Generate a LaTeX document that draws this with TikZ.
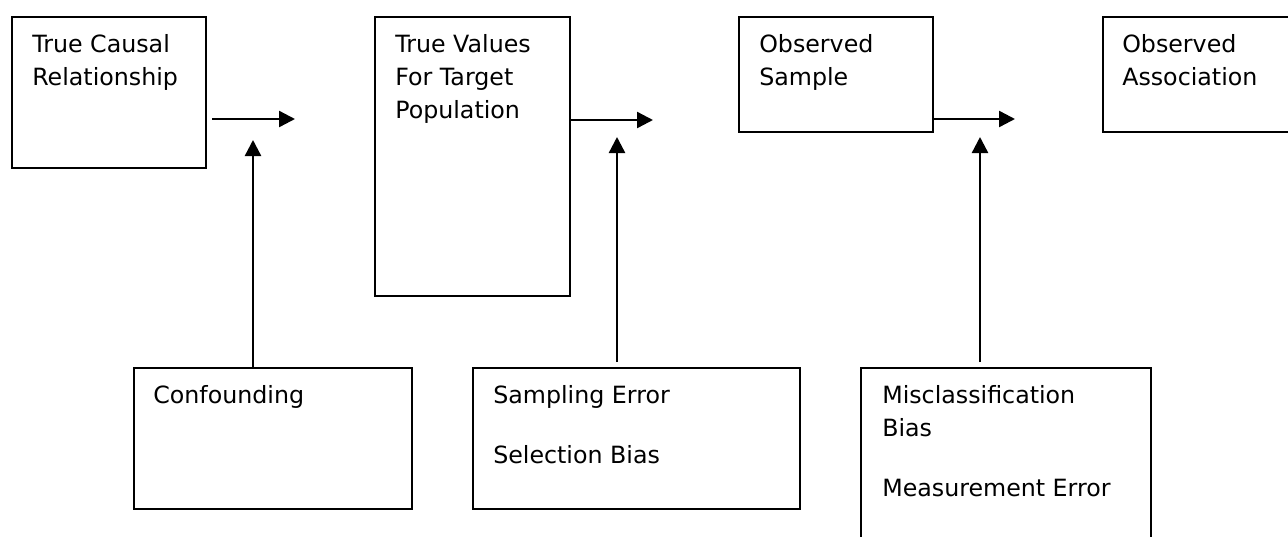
\documentclass[tikz,border=0pt]{standalone}
\usepackage{fontspec}
\setmainfont{DejaVu Sans}
\usetikzlibrary{arrows.meta}

\tikzset{
	box/.style={draw, line width=1.8pt, inner sep=0pt, anchor=north west},
	lbl/.style={anchor=base west, align=left, inner sep=0pt, font=\fontsize{17.8}{24.75}\selectfont},
	flow/.style={line width=1.8pt, -{Triangle[length=12pt, width=12pt]}}
}

\begin{document}
\begin{tikzpicture}[x=0.75pt, y=-0.75pt]
	\useasboundingbox (0,0) rectangle (1288,536);
	\clip (0,0) rectangle (1288,536);
	% top row
	\node[box, minimum width=145.5pt, minimum height=113.25pt] (cause) at (11,16) {};
	\node[box, minimum width=146.25pt, minimum height=209.25pt] (target) at (374,16) {};
	\node[box, minimum width=145.5pt, minimum height=86.25pt] (sample) at (738,16) {};
	\node[box, minimum width=145.5pt, minimum height=86.25pt] (assoc) at (1102,16) {};
	% bottom row
	\node[box, minimum width=208.5pt, minimum height=105.75pt] (confound) at (133,367) {};
	\node[box, minimum width=245.25pt, minimum height=105.75pt] (selection) at (472,367) {};
	\node[box, minimum width=217.5pt, minimum height=142.5pt] (measure) at (860,367) {};
	% texts (anchored on the last line)
	\node[lbl] (causetxt) at ([shift={(21,69)}]cause.north west) {True Causal\\Relationship};
	\node[lbl] (targettxt) at ([shift={(21,102)}]target.north west) {True Values\\For Target\\Population};
	\node[lbl] (sampletxt) at ([shift={(21,69)}]sample.north west) {Observed\\Sample};
	\node[lbl] (assoctxt) at ([shift={(20,69)}]assoc.north west) {Observed\\Association};
	\node[lbl] (confoundtxt) at ([shift={(20,36)}]confound.north west) {Confounding};
	\node[lbl] (selectiontxt) at ([shift={(21,96)}]selection.north west) {Sampling Error\\[20pt]Selection Bias};
	\node[lbl] (measuretxt) at ([shift={(22,129)}]measure.north west) {Misclassification\\Bias\\[20pt]Measurement Error};
	% arrow ends
	\coordinate (t1) at (295,119);
	\coordinate (t2) at (653,120);
	\coordinate (t3) at (1015,119);
	\coordinate (u1) at (253,140);
	\coordinate (u2) at (617,137);
	\coordinate (u3) at (980,137);
	% arrows
	\draw[flow] ([xshift=3.75pt]cause.east |- t1) -- (t1);
	\draw[flow] (target.east |- t2) -- (t2);
	\draw[flow] (sample.east |- t3) -- (t3);
	\draw[flow] (confound.north -| u1) -- (u1);
	\draw[flow] ([yshift=3.75pt]selection.north -| u2) -- (u2);
	\draw[flow] ([yshift=3.75pt]measure.north -| u3) -- (u3);
\end{tikzpicture}
\end{document}
